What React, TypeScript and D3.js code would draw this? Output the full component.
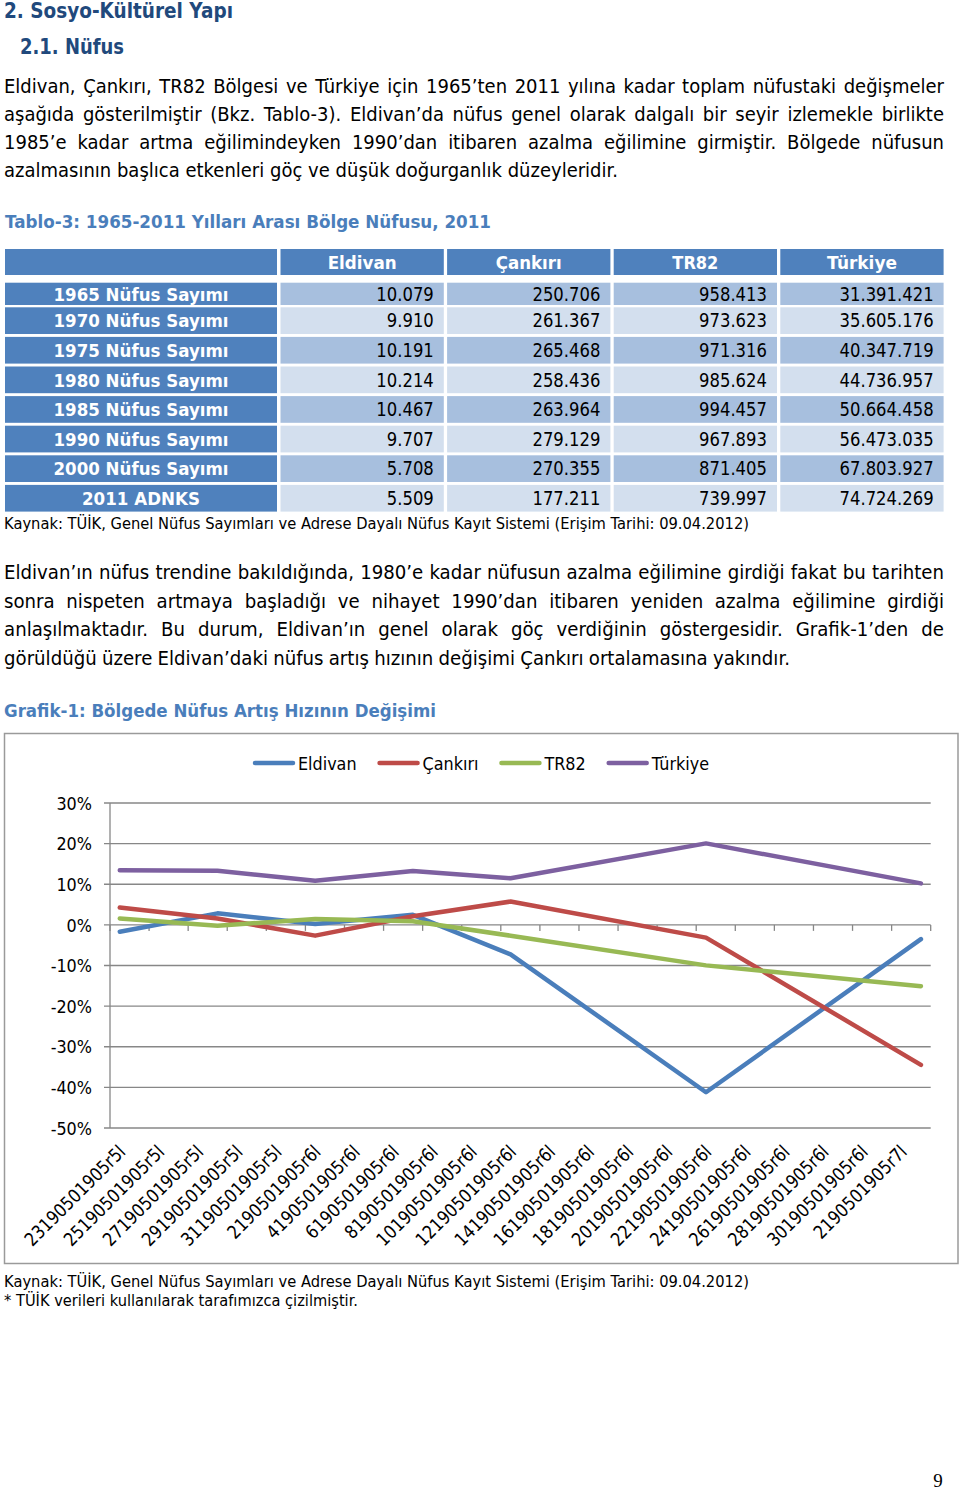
import React from 'react';
import * as d3 from 'd3';

// ---------------- Data ----------------
const heading1 = '2. Sosyo-Kültürel Yapı';
const heading2 = '2.1. Nüfus';
const para1Lines = [
  'Eldivan, Çankırı, TR82 Bölgesi ve Türkiye için 1965’ten 2011 yılına kadar toplam nüfustaki değişmeler',
  'aşağıda gösterilmiştir (Bkz. Tablo-3). Eldivan’da nüfus genel olarak dalgalı bir seyir izlemekle birlikte',
  '1985’e kadar artma eğilimindeyken 1990’dan itibaren azalma eğilimine girmiştir. Bölgede nüfusun',
  'azalmasının başlıca etkenleri göç ve düşük doğurganlık düzeyleridir.',
];
const tableCaption = 'Tablo-3: 1965-2011 Yılları Arası Bölge Nüfusu, 2011';
const tableColumns = ['Eldivan', 'Çankırı', 'TR82', 'Türkiye'];
const tableRowLabels = [
  '1965 Nüfus Sayımı', '1970 Nüfus Sayımı', '1975 Nüfus Sayımı', '1980 Nüfus Sayımı',
  '1985 Nüfus Sayımı', '1990 Nüfus Sayımı', '2000 Nüfus Sayımı', '2011 ADNKS',
];
const eldivanPop = [10079, 9910, 10191, 10214, 10467, 9707, 5708, 5509];
const cankiriPop = [250706, 261367, 265468, 258436, 263964, 279129, 270355, 177211];
const tr82Pop = [958413, 973623, 971316, 985624, 994457, 967893, 871405, 739997];
const turkiyePop = [31391421, 35605176, 40347719, 44736957, 50664458, 56473035, 67803927, 74724269];
const sourceText = 'Kaynak: TÜİK, Genel Nüfus Sayımları ve Adrese Dayalı Nüfus Kayıt Sistemi (Erişim Tarihi: 09.04.2012)';
const para2Lines = [
  'Eldivan’ın nüfus trendine bakıldığında, 1980’e kadar nüfusun azalma eğilimine girdiği fakat bu tarihten',
  'sonra nispeten artmaya başladığı ve nihayet 1990’dan itibaren yeniden azalma eğilimine girdiği',
  'anlaşılmaktadır. Bu durum, Eldivan’ın genel olarak göç verdiğinin göstergesidir. Grafik-1’den de',
  'görüldüğü üzere Eldivan’daki nüfus artış hızının değişimi Çankırı ortalamasına yakındır.',
];
const chartCaption = 'Grafik-1: Bölgede Nüfus Artış Hızının Değişimi';
const noteText = '* TÜİK verileri kullanılarak tarafımızca çizilmiştir.';
const pageNumber = '9';

// chart data (population change between censuses, %)
const seriesNames = ['Eldivan', 'Çankırı', 'TR82', 'Türkiye'];
const growthYears = [1970, 1975, 1980, 1985, 1990, 2000, 2011];
const eldivanGrowth = [-1.68, 2.84, 0.23, 2.48, -7.26, -41.2, -3.49];
const cankiriGrowth = [4.25, 1.57, -2.65, 2.14, 5.75, -3.14, -34.45];
const tr82Growth = [1.59, -0.24, 1.47, 0.9, -2.67, -9.97, -15.08];
const turkiyeGrowth = [13.42, 13.32, 10.88, 13.25, 11.46, 20.06, 10.21];
const xCategoryLabels = [
  '23190501905r5l', '25190501905r5l', '27190501905r5l', '29190501905r5l', '31190501905r5l',
  '2190501905r6l', '4190501905r6l', '6190501905r6l', '8190501905r6l', '10190501905r6l',
  '12190501905r6l', '14190501905r6l', '16190501905r6l', '18190501905r6l', '20190501905r6l',
  '22190501905r6l', '24190501905r6l', '26190501905r6l', '28190501905r6l', '30190501905r6l',
  '2190501905r7l',
];
const yTickValues = [30, 20, 10, 0, -10, -20, -30, -40, -50];

// ---------------- Layout / style ----------------
const FONT = '"DejaVu Sans", Verdana, sans-serif';
const RATIO = 0.865; // Tahoma-like width relative to DejaVu Sans
const DARK_BLUE = '#21497c';
const CAPTION_BLUE = '#4a7ebb';
const TABLE_BLUE = '#4f81bd';
const BAND_DARK = '#a7bfde';
const BAND_LIGHT = '#d3dfee';
const seriesColors = ['#4a7ebb', '#be4b48', '#98b954', '#7d60a0'];

let _ctx: CanvasRenderingContext2D | null = null;
function measure(text: string, size: number, weight: string = 'normal'): number {
  if (!_ctx) _ctx = document.createElement('canvas').getContext('2d');
  if (!_ctx) return text.length * size * 0.5;
  _ctx.font = `${weight} ${size}px "DejaVu Sans"`;
  return _ctx.measureText(text).width * RATIO;
}

type FTProps = {
  x: number; y: number; text: string; size: number; weight?: string; fill?: string;
  width?: number; anchor?: 'start' | 'middle' | 'end'; transform?: string; family?: string;
};
function FitText({ x, y, text, size, weight = 'normal', fill = '#000', width, anchor = 'start', transform, family = FONT }: FTProps) {
  const w = width ?? measure(text, size, weight);
  return (
    <text x={x} y={y} fontSize={size} fontWeight={weight} fill={fill} fontFamily={family}
      textAnchor={anchor} textLength={w} lengthAdjust="spacingAndGlyphs" transform={transform}>
      {text}
    </text>
  );
}

// Paragraph: word widths calibrated so that the (left-aligned) last line has the measured width;
// all other lines are justified to the full column width.
function Paragraph({ x, y0, lineGap, lines, size, width, lastWidth, spaceFactor }: {
  x: number; y0: number; lineGap: number; lines: string[]; size: number; width: number; lastWidth: number; spaceFactor: number;
}) {
  const sp = spaceFactor * size;
  const lastWords = lines[lines.length - 1].split(' ');
  const lastSum = d3.sum(lastWords, (w) => measure(w, size));
  const k = (lastWidth - (lastWords.length - 1) * sp) / lastSum;
  return (
    <g>
      {lines.map((line, li) => {
        const words = line.split(' ');
        const isLast = li === lines.length - 1;
        let ws = words.map((w) => measure(w, size) * k);
        const sum = d3.sum(ws);
        let gap = sp;
        if (!isLast) {
          if (sum + (words.length - 1) * sp <= width) gap = (width - sum) / (words.length - 1);
          else {
            const kk = (width - (words.length - 1) * sp) / sum;
            ws = ws.map((w) => w * kk);
          }
        }
        let cx = x;
        const y = y0 + li * lineGap;
        return (
          <g key={li}>
            {words.map((w, i) => {
              const el = <FitText key={i} x={cx} y={y} text={w} size={size} width={ws[i]} />;
              cx += ws[i] + gap;
              return el;
            })}
          </g>
        );
      })}
    </g>
  );
}

const fmt = d3.formatLocale({ decimal: ',', thousands: '.', grouping: [3], currency: ['', ''] }).format(',d');

export default function App() {
  // ---- table geometry ----
  const popCols = [eldivanPop, cankiriPop, tr82Pop, turkiyePop];
  const colBand = d3.scaleBand<string>().domain(tableColumns).range([280.5, 943.6]).paddingInner(0.0198);
  const firstX0 = 5, firstX1 = 277;
  const headerTop = 249, headerH = 26;
  const rowTop = (i: number) => (i === 0 ? 282.7 : 307.3 + (i - 1) * 29.6);
  const rowH = (i: number) => (i === 0 ? 22.3 : 26.7);
  const headerWidths: Record<string, number> = { Eldivan: 69, 'Çankırı': 66, TR82: 46, 'Türkiye': 70 };

  // ---- chart geometry ----
  const plotL = 110, plotR = 930.7, plotT = 803, plotB = 1128;
  const xScale = d3.scaleLinear().domain([1969.5, 2011.5]).range([plotL, plotR]);
  const yScale = d3.scaleLinear().domain([-50, 30]).range([plotB, plotT]);
  const allSeries = [eldivanGrowth, cankiriGrowth, tr82Growth, turkiyeGrowth];
  const lineGen = d3.line<number>().x((_, i) => xScale(growthYears[i])).y((d) => yScale(d));
  const xTicks = d3.range(xCategoryLabels.length + 1).map((k) => 1969.5 + 2 * k);
  const catCenters = xCategoryLabels.map((_, k) => 1970.5 + 2 * k);

  // legend layout
  const legendY = 763;
  const legendItems: { x1: number; tx: number; name: string; color: string }[] = [];
  let lx = 253;
  seriesNames.forEach((name, i) => {
    const tx = lx + 45;
    legendItems.push({ x1: lx, tx, name, color: seriesColors[i] });
    lx = tx + measure(name, 18.5) + 21;
  });

  const gridColor = '#878787';

  return (
    <svg width={960} height={1490} style={{ position: 'absolute', left: 0, top: 0, background: '#fff' }}>
      <rect x={0} y={0} width={960} height={1490} fill="#fff" />
      {/* Headings */}
      <FitText x={4} y={17.5} text={heading1} size={21} weight="bold" fill={DARK_BLUE} width={229} />
      <FitText x={20} y={54} text={heading2} size={21} weight="bold" fill={DARK_BLUE} width={104} />

      {/* Paragraph 1 */}
      <Paragraph x={4} y0={93.3} lineGap={27.8} lines={para1Lines} size={19.2} width={940} lastWidth={614} spaceFactor={0.3} />

      {/* Table caption */}
      <FitText x={5} y={227.7} text={tableCaption} size={18.5} weight="bold" fill={CAPTION_BLUE} width={486} />

      {/* Table header */}
      <rect x={firstX0} y={headerTop} width={firstX1 - firstX0} height={headerH} fill={TABLE_BLUE} />
      {tableColumns.map((c) => (
        <g key={c}>
          <rect x={colBand(c)} y={headerTop} width={colBand.bandwidth()} height={headerH} fill={TABLE_BLUE} />
          <FitText x={(colBand(c) as number) + colBand.bandwidth() / 2} y={headerTop + headerH / 2 + 6.7}
            text={c} size={18.5} weight="bold" fill="#fff" anchor="middle" width={headerWidths[c]} />
        </g>
      ))}

      {/* Table body */}
      {tableRowLabels.map((lab, i) => {
        const top = rowTop(i);
        const h = rowH(i);
        const by = top + h / 2 + 6.7;
        return (
          <g key={lab}>
            <rect x={firstX0} y={top} width={firstX1 - firstX0} height={h} fill={TABLE_BLUE} />
            <FitText x={(firstX0 + firstX1) / 2} y={by} text={lab} size={18.5} weight="bold" fill="#fff"
              anchor="middle" width={lab.startsWith('2011') ? 118 : 175} />
            {tableColumns.map((c, j) => (
              <g key={c}>
                <rect x={colBand(c)} y={top} width={colBand.bandwidth()} height={h}
                  fill={i % 2 === 0 ? BAND_DARK : BAND_LIGHT} />
                <FitText x={(colBand(c) as number) + colBand.bandwidth() - 10} y={by}
                  text={fmt(popCols[j][i])} size={19} anchor="end" />
              </g>
            ))}
          </g>
        );
      })}

      {/* Source under table */}
      <FitText x={4} y={529} text={sourceText} size={16.5} width={745} />

      {/* Paragraph 2 */}
      <Paragraph x={4} y0={579} lineGap={28.7} lines={para2Lines} size={19.2} width={940} lastWidth={786} spaceFactor={0.27} />

      {/* Chart caption */}
      <FitText x={4} y={717} text={chartCaption} size={18.5} weight="bold" fill={CAPTION_BLUE} width={432} />

      {/* Chart frame */}
      <rect x={4.5} y={733.5} width={953.5} height={530} fill="#fff" stroke="#9a9a9a" strokeWidth={1.5} />

      {/* Legend */}
      {legendItems.map((it) => (
        <g key={it.name}>
          <line x1={it.x1 + 2} x2={it.x1 + 40} y1={legendY} y2={legendY} stroke={it.color} strokeWidth={4.5} strokeLinecap="round" />
          <FitText x={it.tx} y={legendY + 6.7} text={it.name} size={18.5} />
        </g>
      ))}

      {/* Gridlines & y axis */}
      {yTickValues.map((v) => (
        <g key={v}>
          <line x1={plotL - 6} x2={plotR} y1={yScale(v)} y2={yScale(v)} stroke={gridColor} strokeWidth={1.3} />
          <FitText x={92} y={yScale(v) + 6.7} text={`${v}%`} size={18.5} anchor="end" />
        </g>
      ))}
      <line x1={plotL} x2={plotL} y1={plotT} y2={plotB} stroke={gridColor} strokeWidth={1.3} />

      {/* x axis ticks at 0 */}
      {xTicks.map((t) => (
        <line key={t} x1={xScale(t)} x2={xScale(t)} y1={yScale(0)} y2={yScale(0) + 6} stroke={gridColor} strokeWidth={1.3} />
      ))}

      {/* x labels */}
      {xCategoryLabels.map((lab, k) => {
        const ax = xScale(catCenters[k]) - 3;
        const ay = 1153;
        return (
          <FitText key={lab + k} x={ax} y={ay} text={lab} size={18.5} anchor="end"
            transform={`rotate(-45 ${ax} ${ay})`} />
        );
      })}

      {/* Series lines */}
      {allSeries.map((s, i) => (
        <path key={seriesNames[i]} d={lineGen(s) || ''} fill="none" stroke={seriesColors[i]}
          strokeWidth={4.5} strokeLinejoin="round" strokeLinecap="round" />
      ))}

      {/* Source under chart */}
      <FitText x={4} y={1287} text={sourceText} size={16.5} width={745} />
      <FitText x={4} y={1306} text={noteText} size={16.5} width={354} />

      {/* Page number */}
      <text x={938} y={1487} fontSize={19} fontFamily='"Liberation Serif", "DejaVu Serif", serif' textAnchor="middle">{pageNumber}</text>
    </svg>
  );
}
